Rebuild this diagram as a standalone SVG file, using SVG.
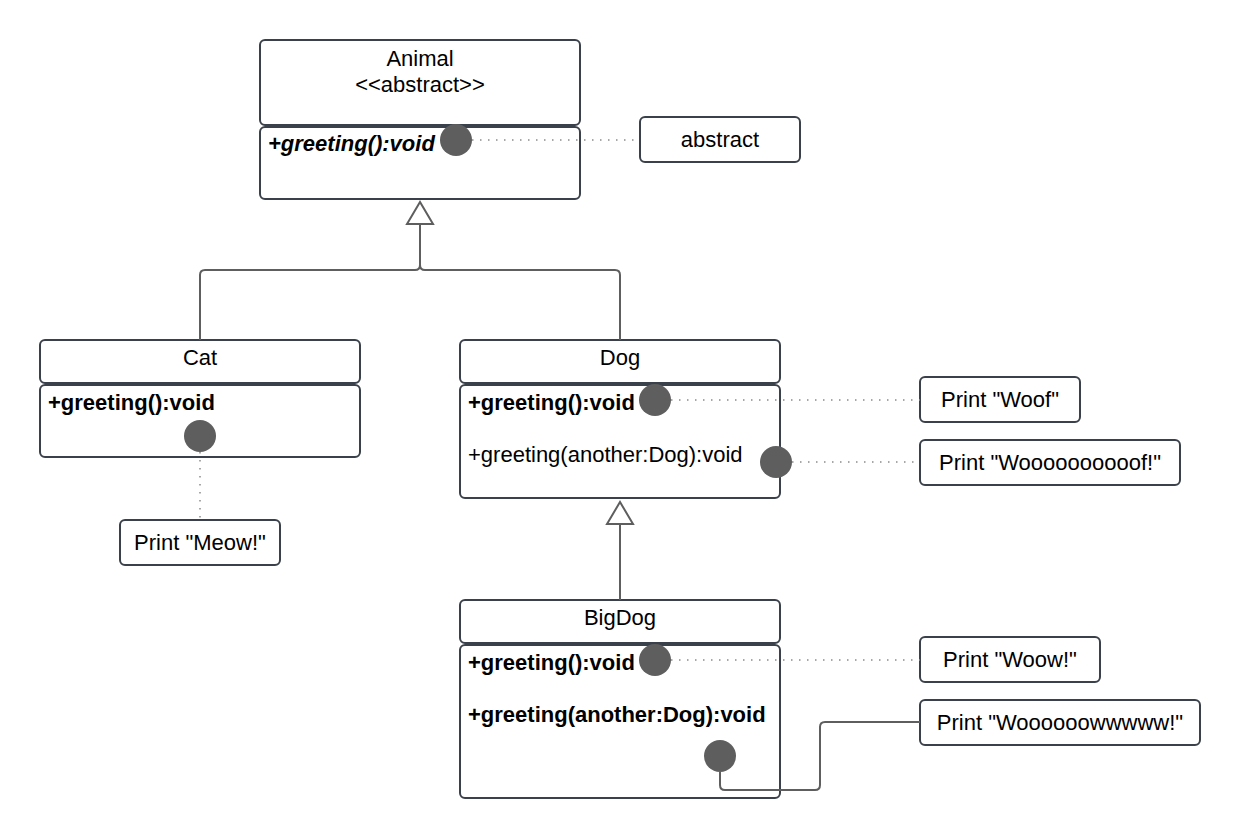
<svg xmlns="http://www.w3.org/2000/svg" width="1240" height="840" viewBox="0 0 1240 840">
  <style>
    .box { fill: #ffffff; stroke: #3a414a; stroke-width: 2; }
    .txt { font-family: "Liberation Sans", Arial, sans-serif; font-size: 22px; fill: #000000; }
    .mid { text-anchor: middle; }
    .b { font-weight: bold; }
    .bi { font-weight: bold; font-style: italic; }
    .dot { fill: #5e5e5e; }
    .line { fill: none; stroke: #5e5e5e; stroke-width: 2; }
    .dotted { fill: none; stroke: #8a8a8a; stroke-width: 1.5; stroke-dasharray: 1.5 6.5; }
    .tri { fill: #ffffff; stroke: #5e5e5e; stroke-width: 2; }
  </style>

  <!-- Animal -->
  <g id="animal">
    <rect class="box" x="260" y="40" width="320" height="85" rx="5"/>
    <rect class="box" x="260" y="127" width="320" height="72" rx="5"/>
    <text class="txt mid" x="420" y="66">Animal</text>
    <text class="txt mid" x="420" y="92">&lt;&lt;abstract&gt;&gt;</text>
    <text class="txt bi" x="268" y="151">+greeting():void</text>
  </g>

  <!-- Cat -->
  <g id="cat">
    <rect class="box" x="40" y="340" width="320" height="43" rx="5"/>
    <rect class="box" x="40" y="385" width="320" height="72" rx="5"/>
    <text class="txt mid" x="200" y="365">Cat</text>
    <text class="txt b" x="48" y="410">+greeting():void</text>
  </g>

  <!-- Dog -->
  <g id="dog">
    <rect class="box" x="460" y="340" width="320" height="43" rx="5"/>
    <rect class="box" x="460" y="385" width="320" height="113" rx="5"/>
    <text class="txt mid" x="620" y="365">Dog</text>
    <text class="txt b" x="468" y="410">+greeting():void</text>
    <text class="txt" x="468" y="462">+greeting(another:Dog):void</text>
  </g>

  <!-- BigDog -->
  <g id="bigdog">
    <rect class="box" x="460" y="600" width="320" height="43" rx="5"/>
    <rect class="box" x="460" y="645" width="320" height="153" rx="5"/>
    <text class="txt mid" x="620" y="625">BigDog</text>
    <text class="txt b" x="468" y="670">+greeting():void</text>
    <text class="txt b" x="468" y="722">+greeting(another:Dog):void</text>
  </g>

  <!-- notes -->
  <g id="note-abstract">
    <rect class="box" x="640" y="117" width="160" height="45" rx="5"/>
    <text class="txt mid" x="720" y="147">abstract</text>
  </g>
  <g id="note-meow">
    <rect class="box" x="120" y="520" width="160" height="45" rx="5"/>
    <text class="txt mid" x="200" y="550">Print "Meow!"</text>
  </g>
  <g id="note-woof">
    <rect class="box" x="920" y="377" width="160" height="45" rx="5"/>
    <text class="txt mid" x="1000" y="407">Print "Woof"</text>
  </g>
  <g id="note-wooof">
    <rect class="box" x="920" y="440" width="260" height="45" rx="5"/>
    <text class="txt mid" x="1050" y="470">Print "Woooooooooof!"</text>
  </g>
  <g id="note-woow">
    <rect class="box" x="920" y="637" width="180" height="45" rx="5"/>
    <text class="txt mid" x="1010" y="667">Print "Woow!"</text>
  </g>
  <g id="note-wooowww">
    <rect class="box" x="920" y="700" width="280" height="45" rx="5"/>
    <text class="txt mid" x="1060" y="730">Print "Woooooowwwww!"</text>
  </g>

  <!-- connectors, drawn over the class boxes -->
  <g id="connectors">
    <!-- generalization Cat/Dog -> Animal -->
    <path class="line" d="M420 224 V265 Q420 270 415 270 H205 Q200 270 200 275 V340"/>
    <path class="line" d="M420 265 Q420 270 425 270 H615 Q620 270 620 275 V340"/>
    <polygon class="tri" points="420,202 407,224 433,224"/>
    <!-- generalization BigDog -> Dog -->
    <path class="line" d="M620 524 V600"/>
    <polygon class="tri" points="620,502 607,524 633,524"/>
    <!-- note links -->
    <path class="dotted" d="M472 140 H640"/>
    <path class="dotted" d="M200 452 V520"/>
    <path class="dotted" d="M671 400 H920"/>
    <path class="dotted" d="M792 462 H920"/>
    <path class="dotted" d="M671 660 H920"/>
    <path class="line" d="M720 772 V785 Q720 790 725 790 H815 Q820 790 820 785 V727 Q820 722 825 722 H920"/>
  </g>

  <!-- link anchor points -->
  <g id="anchors">
    <circle class="dot" cx="456" cy="140" r="16"/>
    <circle class="dot" cx="200" cy="436" r="16"/>
    <circle class="dot" cx="655" cy="400" r="16"/>
    <circle class="dot" cx="776" cy="462" r="16"/>
    <circle class="dot" cx="655" cy="660" r="16"/>
    <circle class="dot" cx="720" cy="756" r="16"/>
  </g>
</svg>
